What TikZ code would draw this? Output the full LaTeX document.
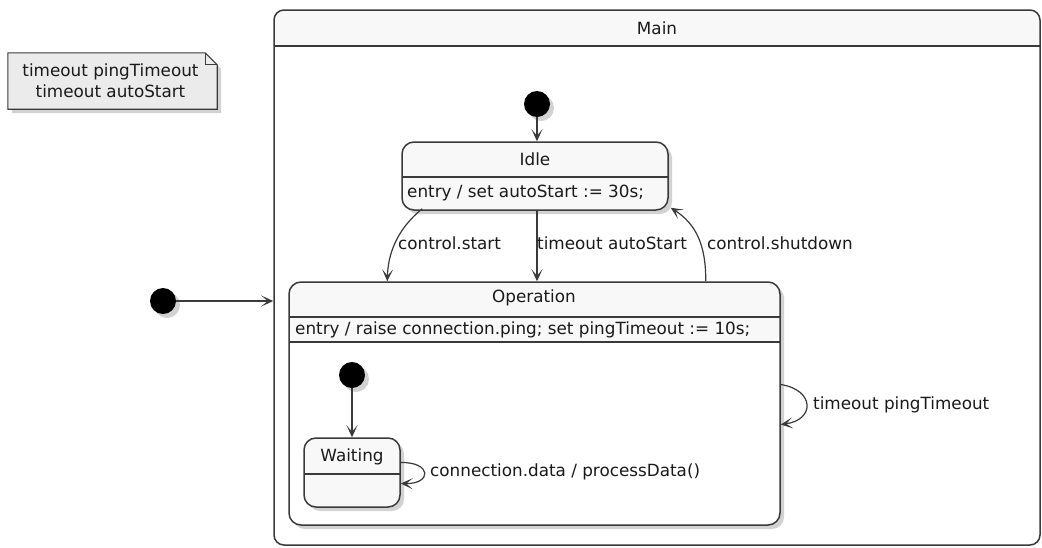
\documentclass[tikz,border=0pt]{standalone}
\usepackage{fontspec}
\setmainfont{DejaVu Sans}
\usetikzlibrary{arrows.meta,shadows}
\definecolor{lncol}{HTML}{3A3A3A}
\definecolor{hdrcol}{HTML}{F8F8F8}
\definecolor{notecol}{HTML}{EBEBEB}
\definecolor{txtcol}{HTML}{1A1A1A}
\tikzset{
  shd/.style={drop shadow={shadow xshift=4pt, shadow yshift=-4pt, opacity=0.25, fill=black!70}},
  box/.style={draw=lncol, line width=1.5pt, rounded corners=12pt, inner sep=0pt},
  initdot/.style={circle, fill=black, minimum size=26pt, inner sep=0pt, shd},
  tr/.style={draw=lncol, line width=1.2pt, -{Stealth[length=12pt,width=11pt,inset=6.5pt]}},
  lbl/.style={anchor=west, inner sep=0pt, text=txtcol, font=\fontsize{16.8}{21}\selectfont},
  txt/.style={inner sep=0pt, text=txtcol, font=\fontsize{16.8}{21}\selectfont},
}
\begin{document}
\begin{tikzpicture}[x=1pt,y=-1pt]
\useasboundingbox (0,0) rectangle (1042,547);

% Note
\node[inner sep=0pt, minimum width=209pt, minimum height=56pt] (note) at (112.5,81) {};
\fill[black!70, opacity=0.25] ([shift={(4pt,-4pt)}]note.north west) -- ([shift={(-8pt,-4pt)}]note.north east) -- ([shift={(4pt,-16pt)}]note.north east) -- ([shift={(4pt,-4pt)}]note.south east) -- ([shift={(4pt,-4pt)}]note.south west) -- cycle;
\draw[draw=lncol, fill=notecol, line width=1.1pt] (note.north west) -- ([xshift=-12pt]note.north east) -- ([yshift=-12pt]note.north east) -- (note.south east) -- (note.south west) -- cycle;
\draw[draw=lncol, line width=1.1pt] ([xshift=-12pt]note.north east) -- ([xshift=-12pt,yshift=-12pt]note.north east) -- ([yshift=-12pt]note.north east);
\node[txt, align=center] (notetext) at ([xshift=-2pt]note.center) {timeout pingTimeout\\timeout autoStart};

% Main container
\node[box, fill=white, rounded corners=10pt, minimum width=766pt, minimum height=535pt,
  path picture={\fill[hdrcol] (path picture bounding box.north west) rectangle ([yshift=-36pt]path picture bounding box.north east);
  \draw[lncol, line width=1.5pt] ([yshift=-36pt]path picture bounding box.north west) -- ([yshift=-36pt]path picture bounding box.north east);}]
  (main) at (657,277.5) {};
\node[txt] (maintitle) at (657,28) {Main};

% Initial states
\node[initdot] (init0) at (163,301) {};
\node[initdot] (init1) at (537,104) {};

% Idle
\node[box, fill=hdrcol, shd, minimum width=266pt, minimum height=68pt,
  path picture={\draw[lncol, line width=1.5pt] ([yshift=-35pt]path picture bounding box.north west) -- ([yshift=-35pt]path picture bounding box.north east);}]
  (idle) at (535,176) {};
\node[txt] (idlename) at (535,159) {Idle};
\node[lbl] (idleentry) at (407,193) {entry / set autoStart := 30s;};

% Operation
\node[box, fill=white, shd, minimum width=491pt, minimum height=243pt,
  path picture={\fill[hdrcol] (path picture bounding box.north west) rectangle ([yshift=-60pt]path picture bounding box.north east);
  \draw[lncol, line width=1.5pt] ([yshift=-35pt]path picture bounding box.north west) -- ([yshift=-35pt]path picture bounding box.north east);
  \draw[lncol, line width=1.5pt] ([yshift=-60pt]path picture bounding box.north west) -- ([yshift=-60pt]path picture bounding box.north east);}]
  (op) at (534.5,403.5) {};
\node[txt] (opname) at (534,298) {Operation};
\node[lbl] (opentry) at (295,330) {entry / raise connection.ping; set pingTimeout := 10s;};

% Inner
\node[initdot] (init2) at (352,375) {};
\node[box, fill=hdrcol, shd, minimum width=96pt, minimum height=69pt,
  path picture={\draw[lncol, line width=1.5pt] ([yshift=-36pt]path picture bounding box.north west) -- ([yshift=-36pt]path picture bounding box.north east);}]
  (wait) at (352,472.5) {};
\node[txt] (waitname) at (352,457) {Waiting};

% Transitions
\draw[tr] (init0) -- (init0 -| main.west);
\draw[tr] (init1) -- (init1 |- idle.north);
\draw[tr] (init2) -- (init2 |- wait.north);

\draw[tr] ([xshift=21pt,yshift=2pt]idle.south west) .. controls (396,230) and (388,255) .. ([xshift=99pt]op.north west);
\node[lbl] (lstart) at (398,243) {control.start};

\draw[tr] ([xshift=2pt]idle.south) -- ([xshift=2pt]idle.south |- op.north);
\node[lbl] (lauto) at (537,243) {timeout autoStart};

\draw[tr] ([xshift=-75pt]op.north east) .. controls (706,245) and (696,224) .. ([xshift=2pt,yshift=3pt]idle.south east);
\node[lbl] (lshut) at (707,243) {control.shutdown};

\draw[tr] ([yshift=19pt]op.east) .. controls (815,390) and (815,420) .. ([yshift=-21pt]op.east);
\node[lbl] (lping) at (813,405) {timeout pingTimeout};

\draw[tr] ([yshift=10pt]wait.east) .. controls (432,462) and (432,484) .. ([yshift=-11pt]wait.east);
\node[lbl] (ldata) at (430,472) {connection.data / processData()};
\end{tikzpicture}
\end{document}
